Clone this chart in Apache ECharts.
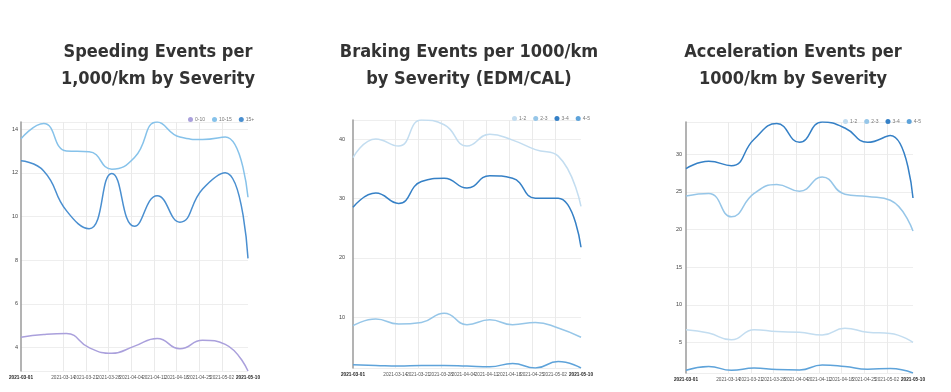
<!DOCTYPE html>
<html>
<head>
<meta charset="utf-8">
<script src="https://cdn.jsdelivr.net/npm/echarts@6/dist/echarts.min.js"></script>
<style>
html,body{margin:0;padding:0;background:#fff;}
#c{width:951px;height:392px;}
</style>
</head>
<body>
<div id="c"></div>
<script>
// ---- data ----
const dates = ['2021-03-01','2021-03-08','2021-03-15','2021-03-22','2021-03-29','2021-04-05','2021-04-12','2021-04-19','2021-04-26','2021-05-03','2021-05-10'];
const tickDates = ['2021-03-14','2021-03-21','2021-03-28','2021-04-04','2021-04-11','2021-04-18','2021-04-25','2021-05-02'];
const xMin = '2021-03-01';
const xMax = '2021-05-10';

const titles = ['Speeding Events per\n1,000/km by Severity', 'Braking Events per 1000/km\nby Severity (EDM/CAL)', 'Acceleration Events per\n1000/km by Severity'];

const speedNames = ['0-10','10-15','15+'];
const speed_0_10  = [4.47,4.59,4.64,3.99,3.73,4.06,4.41,3.94,4.33,4.14,2.92];
const speed_10_15 = [13.56,14.26,13.0,12.97,12.17,12.7,14.33,13.64,13.53,13.64,10.88];
const speed_15p   = [12.55,12.09,10.27,9.44,11.97,9.55,10.95,9.74,11.26,12.01,8.08];

const sevNames = ['1-2','2-3','3-4','4-5'];
const brake_1_2 = [36.95,40.1,38.9,43.3,42.5,38.9,40.9,39.9,38.3,37.2,28.7];
const brake_2_3 = [8.55,9.67,8.83,9.1,10.67,8.72,9.55,8.72,9.1,8.17,6.6];
const brake_3_4 = [28.55,30.95,29.2,32.9,33.45,31.8,33.9,33.45,30.1,30.1,21.8];
const brake_4_5 = [1.95,1.83,1.72,1.83,1.83,1.72,1.6,2.17,1.4,2.5,1.4];

const accel_1_2 = [6.7,6.25,5.35,6.7,6.45,6.35,6.0,6.9,6.35,6.2,5.0];
const accel_2_3 = [24.47,24.8,21.7,24.8,26.0,25.1,27.0,24.7,24.4,23.9,19.8];
const accel_3_4 = [28.1,29.07,28.5,32.0,34.1,31.6,34.3,33.5,31.6,32.5,24.2];
const accel_4_5 = [1.3,1.8,1.3,1.6,1.4,1.35,2.0,1.8,1.45,1.55,0.94];

// ---- helpers ----
function ts(s){ const p = s.split('-').map(Number); return Date.UTC(p[0], p[1]-1, p[2]); }
function fmt(v){ const d = new Date(Math.round(v)); const m = d.getUTCMonth()+1, dd = d.getUTCDate(); return d.getUTCFullYear()+'-'+(m<10?'0':'')+m+'-'+(dd<10?'0':'')+dd; }
function pairs(vals){ return dates.map((d,i)=>[ts(d), vals[i]]); }

const speedColors = ['#aaa0dc','#86c2ea','#4a8fd0'];
const sevColors = ['#c3ddf0','#96c6e8','#3580c6','#5ea3da'];

const grids = [
  {left:21, top:122, width:227, height:249},
  {left:353, top:120, width:228, height:248},
  {left:686, top:122, width:227, height:251}
];
const titleX = [158, 469, 793];
const legendPos = [{left:183, top:112},{left:507, top:111},{left:838, top:114}];
const yMargins = [3, 8, 4];

const option = {
  animation:false,
  backgroundColor:'#fff',
  title: titles.map((t,i)=>({
    text:t, left:titleX[i], top:39, textAlign:'center', padding:0,
    textStyle:{fontFamily:"'DejaVu Sans'", fontWeight:'bold condensed', fontSize:18, lineHeight:27, color:'#333'}
  })),
  legend: [speedNames, sevNames, sevNames].map((names,i)=>({
    data:names, left:legendPos[i].left, top:legendPos[i].top, icon:'circle', itemWidth:5, itemHeight:5, itemGap:7,
    textStyle:{fontSize:5, color:'#777', padding:[0,0,0,-3]}
  })),
  grid: grids,
  xAxis: grids.map((g,i)=>({
    type:'value', gridIndex:i, min:ts(xMin), max:ts(xMax),
    axisLine:{show:false}, axisTick:{show:false, customValues:tickDates.map(ts)},
    splitLine:{show:true, lineStyle:{color:'#eaeaea', width:1}},
    axisLabel:{
      customValues:[ts(xMin)].concat(tickDates.map(ts)).concat([ts(xMax)]),
      hideOverlap:false, margin:4, showMinLabel:true, showMaxLabel:true,
      formatter:function(v){ const s = fmt(v); return (s===xMin||s===xMax) ? '{b|'+s+'}' : '{n|'+s+'}'; },
      rich:{ b:{fontSize:4.7, fontWeight:'bold', color:'#222', fontFamily:'Liberation Sans'}, n:{fontSize:4.7, color:'#555', fontFamily:'Liberation Sans'} }
    }
  })),
  yAxis: grids.map((g,i)=>({
    type:'value', gridIndex:i, min:'dataMin', max:'dataMax', scale:true,
    axisLine:{show:true, lineStyle:{color:'#9a9a9a', width:1.5}},
    axisTick:{show:false},
    splitLine:{show:true, lineStyle:{color:'#eeeeee'}},
    axisLabel:{fontSize:5.5, color:'#444', margin:yMargins[i], showMinLabel:false, showMaxLabel:false, fontFamily:'Liberation Sans'}
  })),
  series: []
};

function addSeries(name, vals, idx, color){
  option.series.push({
    name:name, type:'line', xAxisIndex:idx, yAxisIndex:idx, data:pairs(vals),
    smooth:true, showSymbol:false, symbol:'circle',
    lineStyle:{width:1.5, color:color}, itemStyle:{color:color}
  });
}
addSeries('0-10', speed_0_10, 0, speedColors[0]);
addSeries('10-15', speed_10_15, 0, speedColors[1]);
addSeries('15+', speed_15p, 0, speedColors[2]);
addSeries('1-2', brake_1_2, 1, sevColors[0]);
addSeries('2-3', brake_2_3, 1, sevColors[1]);
addSeries('3-4', brake_3_4, 1, sevColors[2]);
addSeries('4-5', brake_4_5, 1, sevColors[3]);
addSeries('1-2', accel_1_2, 2, sevColors[0]);
addSeries('2-3', accel_2_3, 2, sevColors[1]);
addSeries('3-4', accel_3_4, 2, sevColors[2]);
addSeries('4-5', accel_4_5, 2, sevColors[3]);

const chart = echarts.init(document.getElementById('c'), null, {renderer:'canvas'});
chart.setOption(option);
</script>
</body>
</html>
